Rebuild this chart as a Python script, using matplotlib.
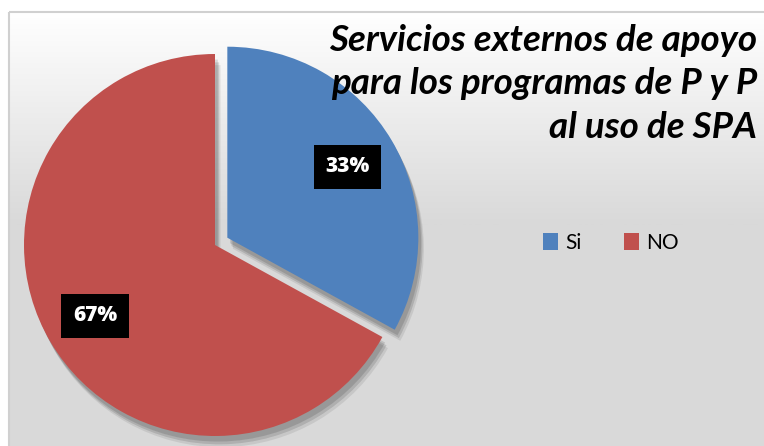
import numpy as np
import matplotlib.pyplot as plt
import matplotlib.patheffects as pe
from matplotlib.patches import Rectangle, Patch

labels = ['Si', 'NO']
values = [33, 67]
colors = ['#4F81BD', '#C0504D']
title = 'Servicios externos de apoyo\npara los programas de P y P\nal uso de SPA'

W, H = 764, 446
fig = plt.figure(figsize=(W/100, H/100), dpi=100)

# background of the chart area: white at top fading to light gray
bg = fig.add_axes([0, 0, 1, 1])
bg.set_xlim(0, W)
bg.set_ylim(H, 0)
bg.axis('off')
grad = np.linspace(0, 1, 200).reshape(-1, 1)
top = np.array([1.0, 1.0, 1.0])
bot = np.array([0xD9, 0xD9, 0xD9]) / 255
img = (top + (bot - top) * grad[..., None]).reshape(200, 1, 3)
bg.imshow(img, extent=[9, W + 5, 225, 12], aspect='auto', zorder=0)
bg.add_patch(Rectangle((9, 225), W, H, color='#D9D9D9', zorder=0))
bg.add_patch(Rectangle((9, 12), W, H, fill=False, ec='#D0D0D0', lw=1.5, zorder=1))

# pie axes: radius 1 = 191 px, centre at (215, 245)
r = 191
cx, cy = 215, 245
half = 1.3 * r
ax = fig.add_axes([(cx - half)/W, 1 - (cy + half)/H, 2*half/W, 2*half/H])
shadow = [pe.SimplePatchShadow(offset=(2, -4), shadow_rgbFace='k', alpha=0.12),
          pe.SimplePatchShadow(offset=(3, -6), shadow_rgbFace='k', alpha=0.12),
          pe.SimplePatchShadow(offset=(4, -8), shadow_rgbFace='k', alpha=0.08),
          pe.Normal()]
wedges, texts, autotexts = ax.pie(values, colors=colors, startangle=90, counterclock=False,
                                  explode=[0.075, 0], autopct='%1.0f%%', pctdistance=0.73,
                                  wedgeprops=dict(linewidth=0, path_effects=shadow),
                                  textprops=dict(color='white', fontsize=15, fontweight='heavy',
                                                 family='Open Sans'))
for t in autotexts:
    t.set_bbox(dict(boxstyle='square,pad=0.55', fc='black', ec='none'))
ax.set_xlim(-1.3, 1.3)
ax.set_ylim(-1.3, 1.3)
ax.set_aspect('equal')
ax.axis('off')

fig.text(757/W, 1 - 24/H, title, ha='right', va='top', fontsize=26.5, fontweight='bold',
         fontstyle='italic', family='Lato', linespacing=1.38)

handles = [Patch(facecolor=c, edgecolor='none') for c in colors]
fig.legend(handles, labels, loc='center', bbox_to_anchor=(611/W, 1 - 243/H), ncol=2,
           frameon=False, handlelength=0.75, handleheight=0.9, handletextpad=0.35,
           columnspacing=2.0, prop=dict(family='Lato', size=15))

fig.savefig('out.png', dpi=100)
